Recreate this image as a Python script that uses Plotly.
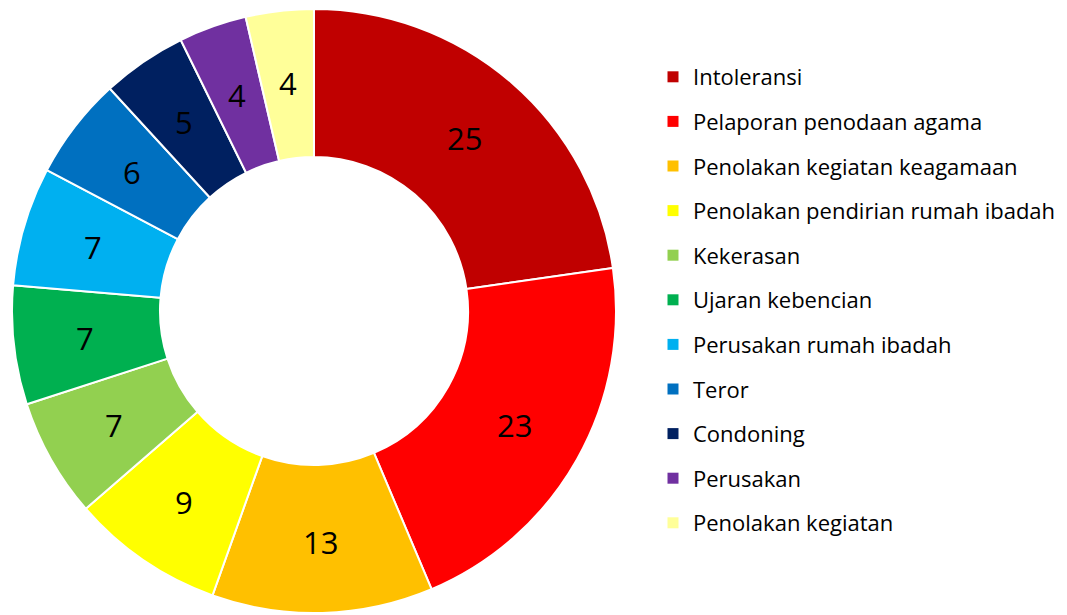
import math
import plotly.graph_objects as go

categories = ["Intoleransi", "Pelaporan penodaan agama", "Penolakan kegiatan keagamaan",
              "Penolakan pendirian rumah ibadah", "Kekerasan", "Ujaran kebencian",
              "Perusakan rumah ibadah", "Teror", "Condoning", "Perusakan", "Penolakan kegiatan"]
values = [25, 23, 13, 9, 7, 7, 7, 6, 5, 4, 4]
colors = ["#C00000", "#FF0000", "#FFC000", "#FFFF00", "#92D050", "#00B050",
          "#00B0F0", "#0070C0", "#002060", "#7030A0", "#FFFF99"]

FONT = "Open Sans, sans-serif"
W, H = 1067, 615
HOLE = 0.51
dom_x = [4 / W, 608 / W]
dom_y = [10 / H, 614 / H]

fig = go.Figure()
fig.add_trace(go.Pie(
    labels=categories, values=values, sort=False, direction="clockwise", rotation=0,
    hole=HOLE, marker=dict(colors=colors, line=dict(color="white", width=2)),
    textinfo="none", showlegend=False, hoverinfo="label+value",
    domain=dict(x=dom_x, y=dom_y),
))

# data labels at the middle of the ring (derived from the values)
cx = (dom_x[0] + dom_x[1]) / 2 * W
cy = (dom_y[0] + dom_y[1]) / 2 * H
R = min((dom_x[1] - dom_x[0]) * W, (dom_y[1] - dom_y[0]) * H) / 2
r_mid = R * (1 + HOLE) / 2 + 2
total = sum(values)
cum = 0
for v in values:
    ang = 2 * math.pi * (cum + v / 2) / total
    cum += v
    px = cx + r_mid * math.sin(ang)
    py = cy + r_mid * math.cos(ang) - 1
    fig.add_annotation(x=px / W, y=py / H, xref="paper", yref="paper", text=str(v),
                       showarrow=False, xanchor="center", yanchor="middle",
                       font=dict(family=FONT, size=31, color="black"))

for i, (c, col) in enumerate(zip(categories, colors)):
    fig.add_trace(go.Scatter(
        x=[None], y=[None], mode="markers", name=c, legendgroup=f"g{i}",
        marker=dict(symbol="square", size=11, color=col),
        showlegend=True,
    ))

fig.update_layout(
    width=W, height=H, margin=dict(l=0, r=0, t=0, b=0),
    paper_bgcolor="white", plot_bgcolor="white",
    xaxis=dict(visible=False), yaxis=dict(visible=False),
    legend=dict(x=645 / W, xanchor="left", y=1 - 48 / H, yanchor="top",
                font=dict(family=FONT, size=22, color="black"),
                tracegroupgap=13, itemsizing="trace", bgcolor="rgba(0,0,0,0)"),
)
fig.write_html("out.html")
